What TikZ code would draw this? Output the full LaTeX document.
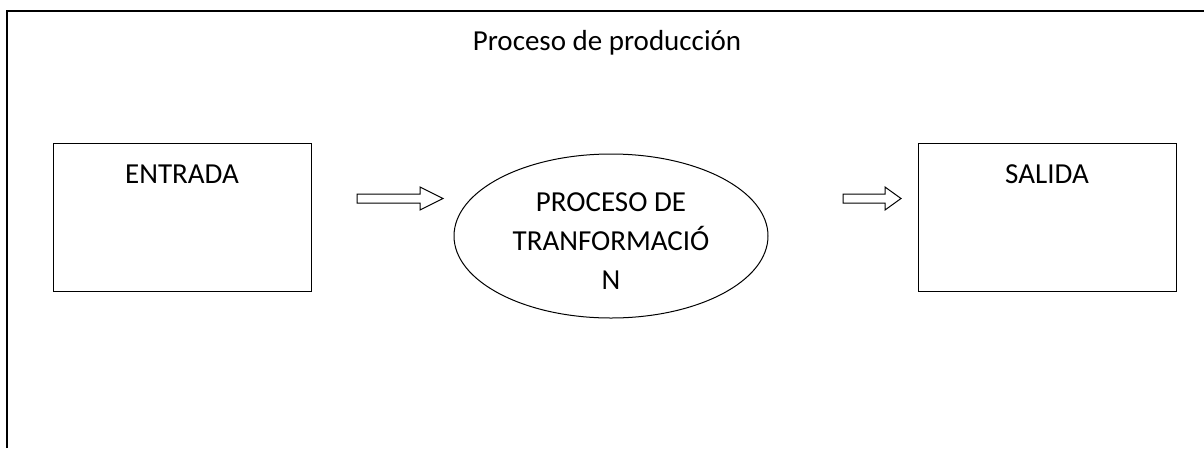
\documentclass[tikz,border=0pt]{standalone}
\usepackage{fontspec}
\setmainfont{Carlito}
\usepackage{tikz}
\usetikzlibrary{positioning}
\usetikzlibrary{shapes.geometric}
\tikzset{>=latex}
\tikzset{
  labeltext/.style={font=\fontsize{29}{39}\selectfont, inner sep=0pt},
  stagebox/.style={draw, line width=1pt, minimum width=258pt, minimum height=148pt, inner sep=0pt},
  stageoval/.style={draw, ellipse, line width=1pt, minimum width=314pt, minimum height=164pt, inner sep=0pt},
  blockarrow/.style={draw, line width=1pt, line join=miter}
}

\begin{document}
\begin{tikzpicture}[x=1pt, y=-1pt]
\useasboundingbox (0,0) rectangle (1204,448);

% ---------- Frame & title ----------
\draw[line width=2pt] (7,448) -- (7,11) -- (1204,11);
\node[labeltext, anchor=base] (titulo) at (607,50) {Proceso de producción};

% ---------- Entrada ----------
\node[stagebox] (entrada) at (182,217) {};
\node[labeltext, anchor=base] (entradatxt) at (182,183) {ENTRADA};

% ---------- Proceso ----------
\node[stageoval] (proceso) at (611,236) {};
\node[labeltext, align=center] (procesotxt) at (611,241) {PROCESO DE\\TRANFORMACIÓ\\N};

% ---------- Salida ----------
\node[stagebox] (salida) at (1047,217) {};
\node[labeltext, anchor=base] (salidatxt) at (1047,183) {SALIDA};

% ---------- Arrows ----------
\draw[blockarrow] (357,194) -- (420,194) -- (420,187) -- (443,198.5)
  -- (420,210) -- (420,203) -- (357,203) -- cycle;
\draw[blockarrow] (843,194) -- (885,194) -- (885,187) -- (901,198.5)
  -- (885,210) -- (885,203) -- (843,203) -- cycle;

\end{tikzpicture}
\end{document}
